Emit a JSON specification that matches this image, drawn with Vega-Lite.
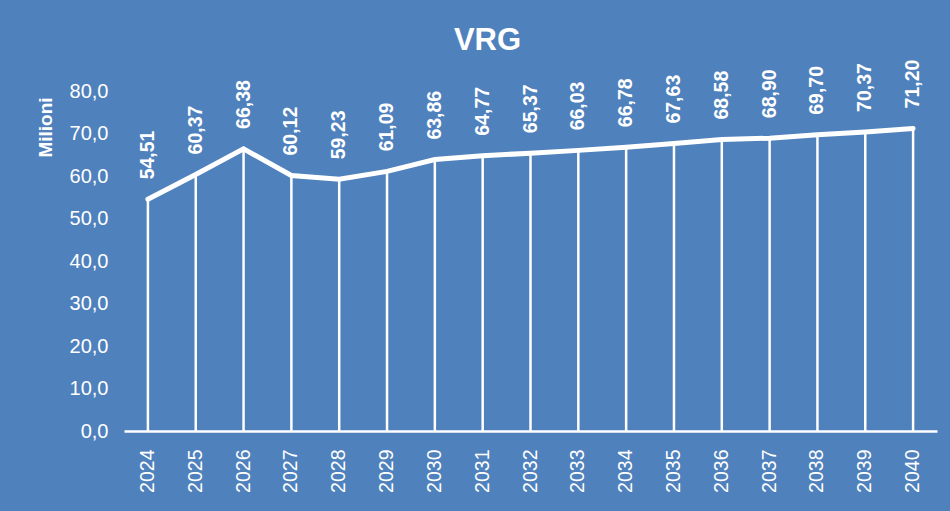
{
  "$schema": "https://vega.github.io/schema/vega-lite/v6.json",
  "autosize": "none",
  "width": 813,
  "height": 340,
  "padding": {"left": 124, "top": 91, "right": 13, "bottom": 80},
  "background": "#4F81BD",
  "config": {
    "view": {"stroke": null},
    "font": "Liberation Sans",
    "locale": {"number": {"decimal": ",", "thousands": ".", "grouping": [3], "currency": ["", " €"]}}
  },
  "title": {"text": "VRG", "fontSize": 31, "fontWeight": "bold", "color": "white", "anchor": "middle", "dx": -43, "offset": 3, "font": "Liberation Sans"},
  "data": {"values": [
    {"year": "2024", "value": 54.51},
    {"year": "2025", "value": 60.37},
    {"year": "2026", "value": 66.38},
    {"year": "2027", "value": 60.12},
    {"year": "2028", "value": 59.23},
    {"year": "2029", "value": 61.09},
    {"year": "2030", "value": 63.86},
    {"year": "2031", "value": 64.77},
    {"year": "2032", "value": 65.37},
    {"year": "2033", "value": 66.03},
    {"year": "2034", "value": 66.78},
    {"year": "2035", "value": 67.63},
    {"year": "2036", "value": 68.58},
    {"year": "2037", "value": 68.90},
    {"year": "2038", "value": 69.70},
    {"year": "2039", "value": 70.37},
    {"year": "2040", "value": 71.20}
  ]},
  "encoding": {
    "x": {"field": "year", "type": "ordinal", "title": null,
      "axis": {"labelAngle": 270, "labelAlign": "right", "labelBaseline": "middle", "labelPadding": 18, "labelFontSize": 19.5, "labelColor": "white", "ticks": false, "domainColor": "white", "domainWidth": 2.5, "grid": false}},
    "y": {"field": "value", "type": "quantitative", "scale": {"domain": [0, 80]},
      "axis": {"title": "Milioni", "titleColor": "white", "titleFontSize": 19, "titleFontWeight": "bold", "titleAngle": 270, "titleX": -79, "titleY": 36, "titleAlign": "center", "titleBaseline": "middle",
        "values": [0, 10, 20, 30, 40, 50, 60, 70, 80], "format": ".1f", "labelFontSize": 20, "labelColor": "white", "labelPadding": 16, "ticks": false, "domain": false, "grid": false}}
  },
  "layer": [
    {"mark": {"type": "rule", "color": "white", "strokeWidth": 2.5}, "encoding": {"y2": {"datum": 0}}},
    {"mark": {"type": "line", "color": "white", "strokeWidth": 5, "strokeCap": "round", "strokeJoin": "miter"}},
    {"mark": {"type": "text", "angle": 270, "align": "left", "baseline": "middle", "dx": 20, "fontSize": 19.5, "fontWeight": "bold", "color": "white"},
      "encoding": {"text": {"field": "value", "type": "quantitative", "format": ".2f"}}}
  ]
}
